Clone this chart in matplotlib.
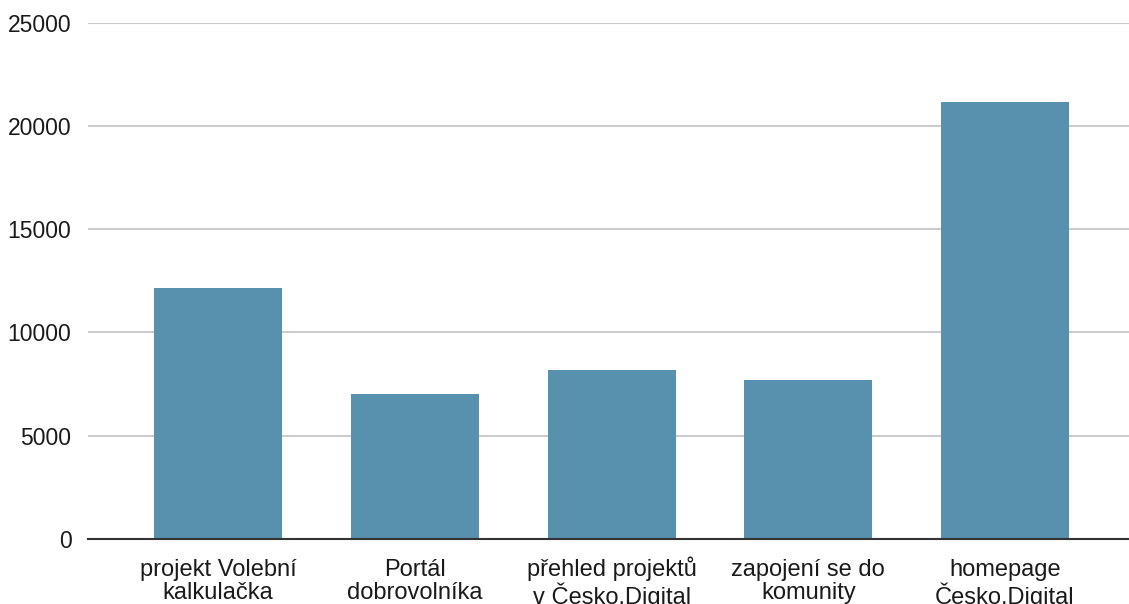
import matplotlib
matplotlib.use("Agg")
from matplotlib import pyplot as plt

# data
categories = ["projekt Volební\nkalkulačka", "Portál\ndobrovolníka", "přehled projektů\nv Česko.Digital",
              "zapojení se do\nkomunity", "homepage\nČesko.Digital"]
values = [12150, 7030, 8180, 7700, 21150]
y_ticks = [0, 5000, 10000, 15000, 20000, 25000]

plt.rcParams["font.family"] = ["Liberation Sans", "DejaVu Sans"]

fig = plt.figure(figsize=(11.29, 6.04), dpi=100)
ax = fig.add_axes([0.078, 0.1076, 0.922, 0.8548])

x = list(range(len(categories)))
ax.bar(x, values, width=0.65, color="#5891ae", zorder=3)

ax.set_xlim(-0.661, 4.63)
ax.set_ylim(0, 25000)
ax.set_yticks(y_ticks)
ax.set_yticklabels([str(v) for v in y_ticks], fontsize=16.5, color="#1a1a1a")
ax.set_xticks(x)
ax.set_xticklabels([])
ax.tick_params(axis="y", length=0, pad=12)
ax.tick_params(axis="x", length=0)

# category labels: first line on a shared baseline, second line hangs from a shared top
for i, label in enumerate(categories):
    first, second = label.split("\n")
    ax.annotate(first, xy=(i, 0), xycoords=("data", "axes fraction"),
                xytext=(0, -26.3), textcoords="offset points",
                ha="center", va="baseline", fontsize=17, color="#1a1a1a",
                annotation_clip=False)
    ax.annotate(second, xy=(i, 0), xycoords=("data", "axes fraction"),
                xytext=(0, -31.3), textcoords="offset points",
                ha="center", va="top", fontsize=17, color="#1a1a1a",
                annotation_clip=False)

ax.grid(axis="y", color="#cccccc", linewidth=1.5, zorder=0)
for side in ["top", "right", "left"]:
    ax.spines[side].set_visible(False)
ax.spines["bottom"].set_color("#333333")
ax.spines["bottom"].set_linewidth(1.5)
ax.spines["bottom"].set_zorder(4)

fig.savefig("out.png", dpi=100)
